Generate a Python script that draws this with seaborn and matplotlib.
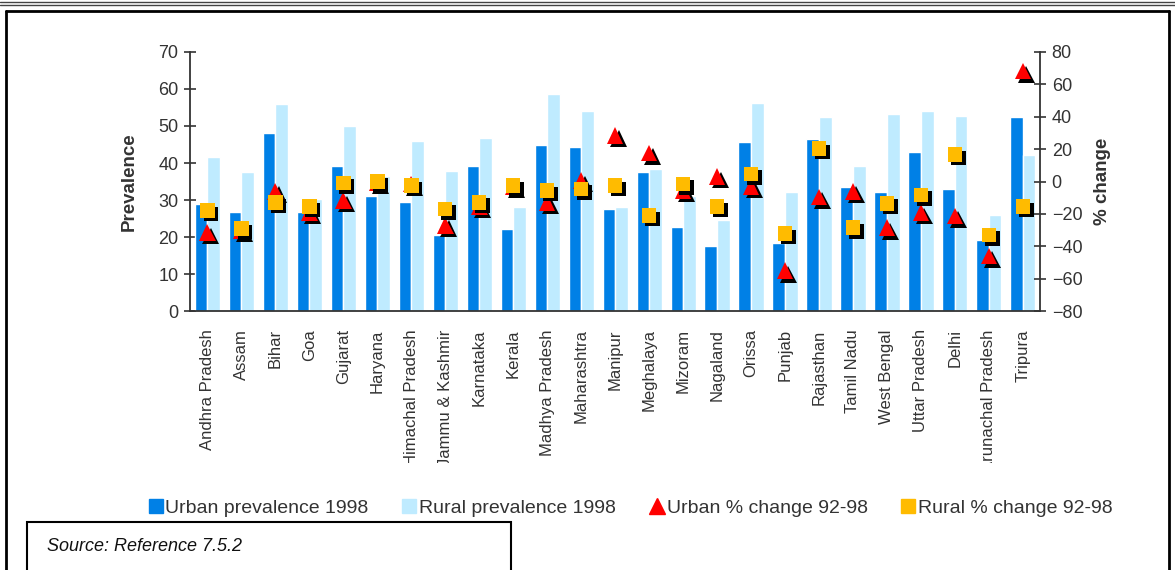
import numpy as np
import pandas as pd
import seaborn as sns
import matplotlib.pyplot as plt
import matplotlib.patheffects as pe
from matplotlib.lines import Line2D
from matplotlib.patches import Rectangle
from matplotlib.transforms import Bbox

# datos
states = ['Andhra Pradesh', 'Assam', 'Bihar', 'Goa', 'Gujarat', 'Haryana',
          'Himachal Pradesh', 'Jammu & Kashmir', 'Karnataka', 'Kerala',
          'Madhya Pradesh', 'Maharashtra', 'Manipur', 'Meghalaya', 'Mizoram',
          'Nagaland', 'Orissa', 'Punjab', 'Rajasthan', 'Tamil Nadu',
          'West Bengal', 'Uttar Pradesh', 'Delhi', 'Arunachal Pradesh', 'Tripura']
urban_prev = [29, 26.7, 48, 26.7, 39.2, 31, 29.4, 20.7, 39.2, 22.2,
              44.8, 44.4, 27.5, 37.5, 22.6, 17.7, 45.6, 18.5, 46.4, 33.5,
              32.2, 43.1, 32.9, 19.2, 52.4]
rural_prev = [41.5, 37.5, 55.8, 30.2, 50, 36.4, 46, 37.9, 46.7, 28.1,
              58.7, 54.1, 28.1, 38.4, 31, 24.7, 56.3, 32.2, 52.4, 39.2,
              53.3, 54, 52.8, 25.9, 42.1]
urban_chg = [-31.5, -30, -6, -19, -11.8, -0.5, -1.5, -27, -15.5, -3,
             -13, 0.6, 28.5, 17.6, -5.5, 3, -3, -55, -9.5, -6,
             -28.5, -19.2, -21.3, -46, 68.2]
rural_chg = [-18, -29, -13, -15.5, -1, 0, -2.5, -17, -12.8, -2.5,
             -5.6, -4.7, -2.5, -21, -1.4, -15.5, 4.6, -32, 20.3, -28.5,
             -13.4, -8.2, 16.6, -33, -15.5]

df = pd.DataFrame({
    'state': states * 2,
    'value': urban_prev + rural_prev,
    'serie': ['Urban prevalence 1998'] * len(states) + ['Rural prevalence 1998'] * len(states),
})

sns.set_style('white')
plt.rcParams['font.family'] = ['Liberation Sans', 'DejaVu Sans']
gris = '#333333'

fig = plt.figure(figsize=(11.75, 5.7), dpi=100)
ax = fig.add_axes([0.162, 0.454, 0.723, 0.455])

sns.barplot(data=df, x='state', y='value', hue='serie',
            palette=['#0080E6', '#BFEBFF'], width=0.74, saturation=1,
            legend=False, ax=ax)

ax.set_xlim(-0.5, len(states) - 0.5)
ax.set_ylim(0, 70)
ax.set_yticks(range(0, 71, 10))
ax.set_ylabel('Prevalence', fontsize=13.5, fontweight='bold', color=gris, labelpad=15)
ax.set_xlabel('')
ax.set_xticks(range(len(states)))
ax.set_xticklabels(states, rotation=90, fontsize=12, color=gris, va='top')
ax.set_xticks(np.arange(-0.5, len(states)), minor=True)
ax.tick_params(axis='x', which='major', length=0, pad=13)
ax.tick_params(axis='x', which='minor', direction='inout', length=9, width=1.2, color=gris)
ax.tick_params(axis='y', direction='inout', length=9, width=1.2, color=gris,
               labelsize=13, labelcolor=gris, pad=4)
for s in ['top', 'right']:
    ax.spines[s].set_visible(False)
for s in ['left', 'bottom']:
    ax.spines[s].set_color(gris)
    ax.spines[s].set_linewidth(1.3)

# etiquetas largas recortadas como en el original
corte = Bbox.from_extents(0, 107, 1175, 570)
for t in ax.get_xticklabels():
    t.set_clip_box(corte)
    t.set_clip_on(True)

ax2 = ax.twinx()
sombra = [pe.SimplePatchShadow(offset=(2.5, -2.5), shadow_rgbFace='black', alpha=1), pe.Normal()]
x = np.arange(len(states))
ax2.plot(x, urban_chg, ls='none', marker='^', ms=12, color='#FF0000',
         markeredgewidth=0, path_effects=sombra)
ax2.plot(x, rural_chg, ls='none', marker='s', ms=10.5, color='#FFBB00',
         markeredgewidth=0, path_effects=sombra)
ax2.set_ylim(-80, 80)
ax2.set_yticks(range(-80, 81, 20))
ax2.set_ylabel('% change', fontsize=13.5, fontweight='bold', color=gris, labelpad=8)
ax2.tick_params(axis='y', direction='inout', length=9, width=1.2, color=gris,
                labelsize=13, labelcolor=gris, pad=4)
for s in ['top', 'left', 'bottom']:
    ax2.spines[s].set_visible(False)
ax2.spines['right'].set_color(gris)
ax2.spines['right'].set_linewidth(1.3)
ax2.grid(False)

# leyenda
handles = [
    Line2D([], [], ls='none', marker='s', ms=10, color='#0080E6'),
    Line2D([], [], ls='none', marker='s', ms=10, color='#BFEBFF'),
    Line2D([], [], ls='none', marker='^', ms=11, color='#FF0000'),
    Line2D([], [], ls='none', marker='s', ms=10, color='#FFBB00'),
]
labels = ['Urban prevalence 1998', 'Rural prevalence 1998',
          'Urban % change 92-98', 'Rural % change 92-98']
fig.legend(handles, labels, loc='center', bbox_to_anchor=(0.536, 0.108), ncol=4,
           frameon=False, fontsize=14, labelcolor=gris, handletextpad=0.05,
           columnspacing=1.65, handlelength=0.9)

# marcos
fig.add_artist(Line2D([0, 1], [0.996, 0.996], color='#444444', lw=1))
fig.add_artist(Line2D([0, 1], [0.991, 0.991], color='#444444', lw=1))
fig.add_artist(Line2D([0.005, 0.995], [0.98, 0.98], color='black', lw=2))
fig.add_artist(Line2D([0.005, 0.005], [0, 0.98], color='black', lw=2))
fig.add_artist(Line2D([0.995, 0.995], [0, 0.98], color='black', lw=2))
fig.add_artist(Rectangle((0.023, -0.01), 0.412, 0.094, fill=False, ec='black', lw=1.5,
                         transform=fig.transFigure))
fig.text(0.04, 0.042, 'Source: Reference 7.5.2', fontsize=13, style='italic',
         color='#111111', va='center')

plt.savefig('out.png', dpi=100)
